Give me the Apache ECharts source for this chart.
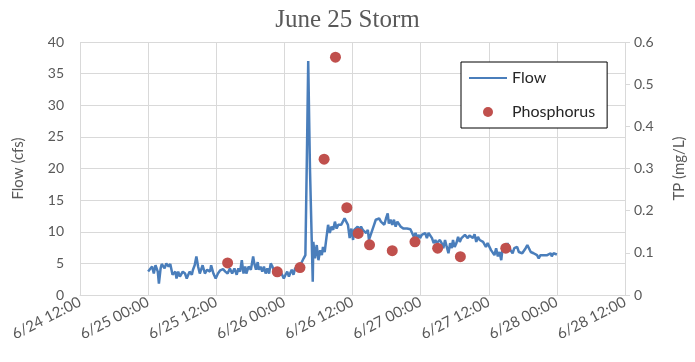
<!DOCTYPE html>
<html>
<head>
<meta charset="utf-8">
<title>June 25 Storm</title>
<script src="https://cdn.jsdelivr.net/npm/echarts@6/dist/echarts.min.js"></script>
<style>
  html, body { margin: 0; padding: 0; background: #fff; }
  #chart { width: 695px; height: 362px; }
</style>
</head>
<body>
<div id="chart"></div>
<script>
// Stream flow record, hours after 6/25 00:00, and flow in cfs
const flowHours = [
  0, 0.3, 0.7, 1.0, 1.3, 1.7, 1.9, 2.2, 2.4, 2.9, 3.2, 3.6, 3.9, 4.3, 4.8, 5.0, 5.3, 5.6, 6.1, 6.5,
  6.8, 7.3, 7.7, 7.9, 8.2, 8.5, 8.8, 9.1, 9.6, 10.0, 10.4, 10.9, 11.1, 11.5, 11.9, 12.3, 12.7, 13.2, 13.6, 14.0,
  14.4, 14.8, 15.2, 15.6, 15.9, 16.2, 16.5, 16.8, 17.1, 17.3, 17.7, 18.1, 18.5, 18.7, 19.0, 19.3, 19.5, 19.8, 20.1, 20.4,
  20.7, 21.0, 21.3, 21.6, 21.9, 22.2, 22.4, 22.7, 23.0, 23.3, 23.6, 23.9, 24.2, 24.5, 24.8, 25.0, 25.3, 25.6, 25.9, 26.4,
  26.8, 27.1, 27.4, 27.7, 28.0, 28.2, 28.5, 29.0, 29.1, 29.4, 29.7, 30.0, 30.3, 30.6, 30.8, 31.1, 31.4, 31.7, 32.0, 32.3,
  32.6, 32.9, 33.2, 33.5, 33.7, 34.0, 34.3, 34.6, 34.9, 35.2, 35.5, 35.8, 36.1, 36.3, 36.6, 36.9, 37.2, 37.5, 37.8, 38.1,
  38.4, 38.7, 38.9, 39.2, 39.5, 39.8, 40.1, 40.4, 40.7, 41.0, 41.3, 41.6, 41.9, 42.2, 42.4, 42.7, 43.0, 43.3, 43.6, 43.9,
  44.2, 44.5, 44.8, 45.0, 45.3, 45.6, 45.9, 46.2, 46.5, 46.8, 47.1, 47.4, 47.7, 47.9, 48.2, 48.5, 48.8, 49.1, 49.4, 49.7,
  50.0, 50.3, 50.6, 50.8, 51.1, 51.4, 51.7, 52.0, 52.3, 52.6, 52.9, 53.2, 53.5, 53.7, 54.0, 54.3, 54.6, 54.9, 55.2, 55.5,
  55.8, 56.1, 56.3, 56.6, 56.9, 57.2, 57.5, 57.8, 58.1, 58.4, 58.7, 59.0, 59.2, 59.5, 59.8, 60.1, 60.4, 60.7, 61.0, 61.3,
  61.6, 61.9, 62.2, 62.4, 62.7, 63.0, 63.3, 63.6, 63.9, 64.2, 64.5, 64.8, 65.0, 65.3, 65.6, 65.9, 66.2, 66.5, 66.8, 67.1,
  67.4, 67.7, 67.9, 68.2, 68.5, 68.8, 69.1, 69.4, 69.7, 70.0, 70.3, 70.6, 70.9, 71.1, 71.4, 71.7, 72.0
];
const flowCfs = [
  3.7, 3.4, 4.5, 3.4, 4.7, 3.7, 1.8, 4.2, 4.9, 4.2, 5.0, 4.5, 4.9, 3.2, 3.7, 2.6, 3.7, 2.9, 3.7, 3.4,
  2.6, 3.7, 3.2, 4.0, 4.7, 6.1, 4.5, 3.4, 4.7, 3.4, 4.0, 3.7, 4.7, 3.4, 2.6, 3.4, 3.9, 4.1, 3.7, 3.4,
  4.2, 3.4, 4.2, 3.2, 4.2, 3.7, 5.5, 3.4, 4.5, 3.4, 4.5, 4.0, 6.1, 5.0, 4.0, 5.2, 4.0, 4.5, 3.7, 4.5,
  3.4, 4.2, 3.4, 5.0, 4.5, 3.7, 3.4, 3.7, 3.4, 3.7, 3.2, 2.6, 3.2, 3.7, 2.9, 3.4, 4.0, 3.2, 4.2, 4.5,
  4.7, 4.5, 5.8, 6.3, 24.0, 37.0, 20.3, 2.1, 8.4, 5.8, 7.9, 5.5, 7.1, 6.3, 7.6, 6.8, 9.0, 11.1, 9.8, 10.8,
  10.3, 11.6, 10.5, 11.1, 11.3, 11.1, 11.6, 12.1, 11.9, 11.1, 9.0, 10.5, 8.7, 10.3, 10.5, 10.8, 10.3, 10.8, 10.3, 10.5,
  9.8, 10.3, 8.7, 9.5, 10.3, 11.1, 11.9, 11.6, 12.1, 11.6, 11.9, 11.1, 12.1, 12.9, 11.3, 11.9, 11.1, 11.9, 10.8, 11.6,
  11.9, 10.8, 10.8, 10.5, 10.5, 10.5, 10.4, 10.4, 10.4, 9.2, 9.8, 9.0, 9.5, 9.0, 9.5, 9.2, 9.8, 9.0, 9.8, 10.0,
  9.0, 8.2, 8.7, 8.2, 8.4, 8.7, 8.2, 7.4, 8.7, 7.6, 6.6, 8.2, 7.4, 8.7, 7.6, 8.2, 9.2, 8.4, 9.0, 8.7,
  9.5, 9.8, 9.0, 9.4, 9.4, 9.0, 9.6, 8.4, 9.2, 8.7, 9.0, 8.4, 8.7, 7.6, 8.2, 7.9, 7.1, 7.4, 6.3, 7.4,
  6.1, 6.8, 5.5, 7.1, 7.9, 7.4, 8.2, 7.4, 7.6, 6.6, 7.4, 7.1, 7.6, 6.8, 7.1, 6.6, 6.8, 7.4, 7.9, 7.6,
  6.8, 7.1, 6.6, 6.8, 6.3, 5.8, 6.3, 6.1, 6.3, 6.1, 6.3, 6.1, 6.6, 6.1, 6.6, 6.3, 6.4
];

// Phosphorus grab samples, hours after 6/25 00:00, and total phosphorus in mg/L
const tpHours = [14, 22.75, 26.75, 31, 33, 35, 37, 39, 43, 47, 51, 55, 63];
const tpMgL = [0.076, 0.055, 0.065, 0.322, 0.564, 0.207, 0.146, 0.119, 0.105, 0.126, 0.111, 0.091, 0.111];

const HOUR = 3600 * 1000;
const startMs = Date.UTC(2015, 5, 25, 0, 0);
const axisMin = Date.UTC(2015, 5, 24, 12, 0);
const axisMax = Date.UTC(2015, 5, 28, 12, 0);

const flowData = flowHours.map((h, i) => [startMs + h * HOUR, flowCfs[i]]);
const tpData = tpHours.map((h, i) => [startMs + h * HOUR, tpMgL[i]]);

const pad = n => String(n).padStart(2, '0');
const fmtTime = v => {
  const d = new Date(v);
  return (d.getUTCMonth() + 1) + '/' + d.getUTCDate() + ' ' + pad(d.getUTCHours()) + ':' + pad(d.getUTCMinutes());
};

const sans = 'Lato, "Open Sans", sans-serif';
const gridColor = '#d9d9d9';
const textColor = '#595959';
const flowColor = '#4a7ebb';

const chart = echarts.init(document.getElementById('chart'), null, { renderer: 'canvas' });
chart.setOption({
  animation: false,
  backgroundColor: '#fff',
  title: {
    text: 'June 25 Storm',
    left: 'center',
    top: 3,
    textStyle: { fontFamily: '"Liberation Serif", serif', fontSize: 25, fontWeight: 'normal', color: textColor }
  },
  grid: { left: 80, right: 63, top: 42, bottom: 67 },
  legend: {
    orient: 'vertical',
    left: 461,
    top: 62,
    padding: [8, 12, 8, 7],
    itemGap: 18,
    itemWidth: 38,
    itemHeight: 10,
    itemTextGap: 5,
    borderColor: '#000',
    borderWidth: 1,
    backgroundColor: '#fff',
    textStyle: { fontFamily: sans, fontSize: 16, color: '#262626' },
    data: [
      // plain line key for the flow record (marker hidden)
      { name: 'Flow', itemStyle: { opacity: 0 } },
      'Phosphorus'
    ]
  },
  xAxis: {
    type: 'value',
    min: axisMin,
    max: axisMax,
    interval: 12 * HOUR,
    axisLine: { show: true, lineStyle: { color: gridColor, width: 1 } },
    axisTick: { show: false },
    splitLine: { show: true, lineStyle: { color: gridColor, width: 1 } },
    axisLabel: {
      formatter: fmtTime,
      rotate: 27,
      margin: 6,
      fontFamily: sans,
      fontSize: 15,
      color: textColor
    }
  },
  yAxis: [
    {
      type: 'value',
      min: 0,
      max: 40,
      interval: 5,
      name: 'Flow (cfs)',
      nameLocation: 'middle',
      nameGap: 54,
      nameTextStyle: { fontFamily: sans, fontSize: 15, color: textColor },
      axisLine: { show: false },
      axisTick: { show: false },
      splitLine: { show: true, lineStyle: { color: gridColor, width: 1 } },
      axisLabel: { margin: 16, fontFamily: sans, fontSize: 14, color: textColor }
    },
    {
      type: 'value',
      min: 0,
      max: 0.6,
      interval: 0.1,
      name: 'TP (mg/L)',
      nameLocation: 'middle',
      nameGap: 47,
      nameRotate: 90,
      nameTextStyle: { fontFamily: sans, fontSize: 15, color: textColor },
      axisLine: { show: false },
      axisTick: { show: true, length: 5, lineStyle: { color: gridColor } },
      splitLine: { show: false },
      axisLabel: {
        margin: 9,
        formatter: v => String(+v.toFixed(1)),
        fontFamily: sans,
        fontSize: 14,
        color: textColor
      }
    }
  ],
  series: [
    {
      name: 'Flow',
      type: 'line',
      yAxisIndex: 0,
      data: flowData,
      symbol: 'none',
      lineStyle: { color: flowColor, width: 2.5 },
      itemStyle: { color: flowColor },
      z: 2
    },
    {
      name: 'Phosphorus',
      type: 'scatter',
      yAxisIndex: 1,
      data: tpData,
      symbol: 'circle',
      symbolSize: 11,
      itemStyle: { color: '#c0504d', opacity: 1 },
      z: 3
    }
  ]
});
</script>
</body>
</html>
